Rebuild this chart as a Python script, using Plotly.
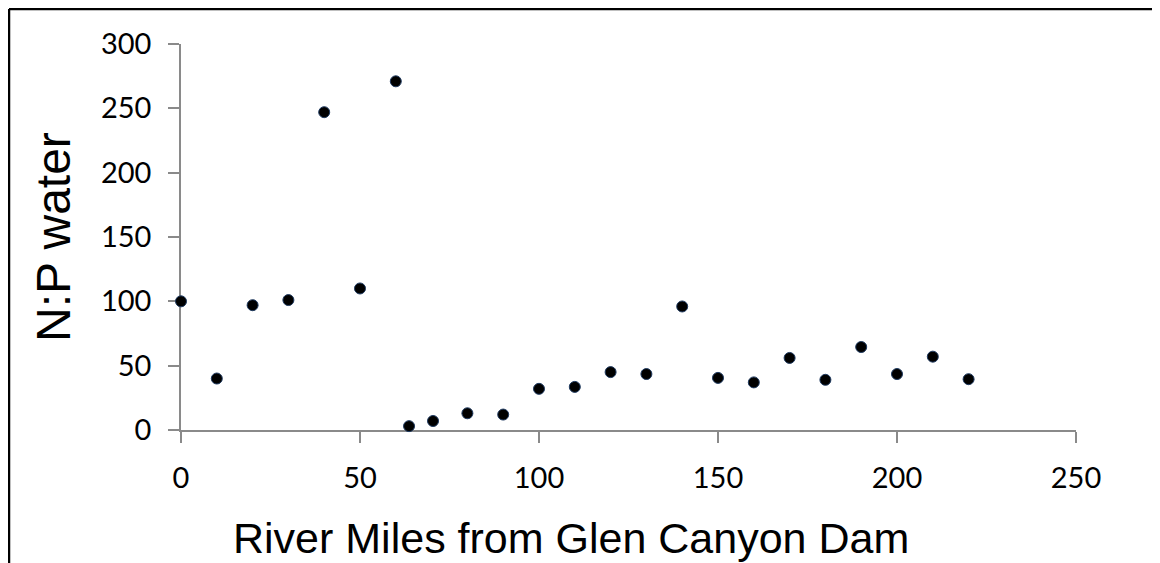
import plotly.graph_objects as go

river_miles = [0, 10, 20, 30, 40, 50, 60, 63.7, 70.4, 80, 90, 100, 110, 120, 130, 140, 150, 160, 170, 180, 190, 200, 210, 220]
np_water = [100, 40, 97, 101, 247, 110, 271, 3, 7, 13, 12, 32, 33.5, 45, 43.5, 96, 40.5, 37, 56, 39, 64.5, 43.5, 57, 39.5]

x_ticks = [0, 50, 100, 150, 200, 250]
y_ticks = [0, 50, 100, 150, 200, 250, 300]

x_title = "River Miles from Glen Canyon Dam"
y_title = "N:P water"

OFF = 8  # page body margin
W, H = 1160 - OFF, 563 - OFF
L, R, T, B = 181 - OFF, 1076 - OFF, 44 - OFF, 430 - OFF

def px_x(p):
    return (p - OFF - L) / (R - L)

def px_y(p):
    return (B - (p - OFF)) / (B - T)

fig = go.Figure()
fig.add_trace(go.Scatter(
    x=river_miles, y=np_water, mode="markers",
    marker=dict(color="#000000", size=11, line=dict(color="#1f3a60", width=1)),
    cliponaxis=False, showlegend=False,
))

axis_common = dict(
    showgrid=False, zeroline=False, showline=True, linecolor="#8a8a8a", linewidth=1.5,
    ticks="outside", ticklen=11, tickwidth=1.5, tickcolor="#8a8a8a", layer="below traces",
    tickfont=dict(family="Lato, Carlito, sans-serif", size=29, color="#000000"),
)

fig.update_xaxes(range=[0, 250], tickvals=x_ticks, ticklabelstandoff=10, **axis_common)
fig.update_yaxes(range=[0, 300], tickvals=y_ticks, ticklabelstandoff=11, **axis_common)

fig.add_annotation(text=x_title, xref="paper", yref="paper", x=px_x(571), y=px_y(538),
                   xanchor="center", yanchor="middle", showarrow=False,
                   font=dict(family="Liberation Sans, Arial, sans-serif", size=43, color="#000000"))
fig.add_annotation(text=y_title, xref="paper", yref="paper", x=px_x(53), y=px_y(237),
                   xanchor="center", yanchor="middle", showarrow=False, textangle=-90,
                   font=dict(family="Liberation Sans, Arial, sans-serif", size=48, color="#000000"))

# outer frame (left and top edges visible)
fig.add_shape(type="line", xref="paper", yref="paper", x0=px_x(9), x1=px_x(9), y0=px_y(9), y1=px_y(600),
              line=dict(color="#000000", width=2.5))
fig.add_shape(type="line", xref="paper", yref="paper", x0=px_x(9), x1=px_x(1200), y0=px_y(9), y1=px_y(9),
              line=dict(color="#000000", width=2.5))

fig.update_layout(
    width=W, height=H,
    margin=dict(l=L, r=W - R, t=T, b=H - B),
    paper_bgcolor="#ffffff", plot_bgcolor="#ffffff",
)

fig.write_html("out.html")
